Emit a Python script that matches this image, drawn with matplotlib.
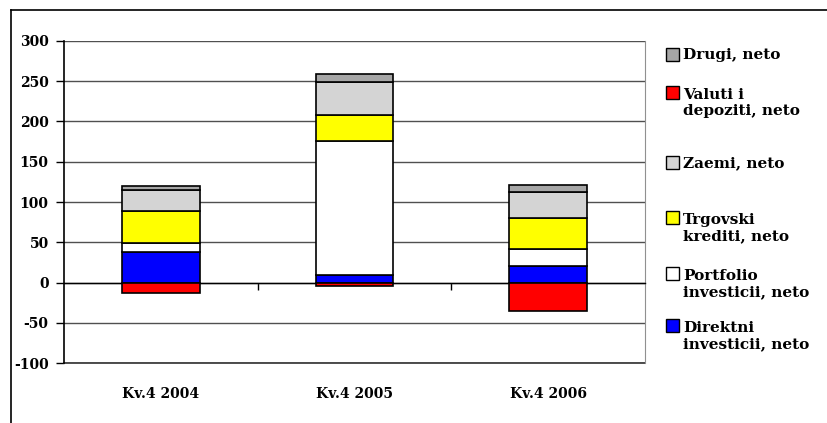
import matplotlib
matplotlib.use("Agg")
import matplotlib.pyplot as plt
import numpy as np
from matplotlib.lines import Line2D
from matplotlib.patches import Rectangle

categories = ["Kv.4 2004", "Kv.4 2005", "Kv.4 2006"]
direktni = [38.5, 9, 21]
portfolio = [10, 167, 21]
trgovski = [40, 32, 38.5]
zaemi = [26, 41, 31.5]
valuti = [-13.5, -4, -35.5]
drugi = [5.5, 10, 9.5]

series_names = ["Direktni\ninvesticii, neto", "Portfolio\ninvesticii, neto",
                "Trgovski\nkrediti, neto", "Zaemi, neto",
                "Valuti i\ndepoziti, neto", "Drugi, neto"]
series_vals = [direktni, portfolio, trgovski, zaemi, valuti, drugi]
colors = ["#0000ff", "#ffffff", "#ffff00", "#d4d4d4", "#ff0000", "#a6a6a6"]
yticks = [-100, -50, 0, 50, 100, 150, 200, 250, 300]

W, H = 828, 423
fig = plt.figure(figsize=(W / 100, H / 100), dpi=100)
ax = fig.add_axes([64 / W, 1 - 363 / H, (645 - 64) / W, (363 - 41) / H])

serif = ["DejaVu Serif"]
x = np.arange(len(categories))
pos_base = np.zeros(len(categories))
neg_base = np.zeros(len(categories))
for vals, c in zip(series_vals, colors):
    v = np.array(vals, dtype=float)
    bottoms = np.where(v >= 0, pos_base, neg_base)
    ax.bar(x, v, width=0.40, bottom=bottoms, color=c, edgecolor="black",
           linewidth=1.2, zorder=3)
    pos_base = pos_base + np.where(v >= 0, v, 0)
    neg_base = neg_base + np.where(v < 0, v, 0)

ax.set_xlim(-0.5, len(categories) - 0.5)
ax.set_ylim(-100, 300)
ax.set_yticks(yticks)
ax.set_yticklabels([str(t) for t in yticks], fontfamily=serif,
                   fontweight="bold", fontsize=10)
ax.yaxis.grid(True, color="#505050", linewidth=1)
ax.axhline(-100, color="#303030", linewidth=1.2, clip_on=False, zorder=1)
ax.set_axisbelow(True)
ax.tick_params(axis="y", direction="out", length=6, width=1, pad=5)

# x axis at zero with tick marks at category boundaries
ax.spines["bottom"].set_position(("data", 0))
ax.spines["bottom"].set_linewidth(1)
ax.set_xticks([0.5, 1.5])
ax.set_xticklabels([])
ax.tick_params(axis="x", direction="out", length=5, width=1)
for i, cat in enumerate(categories):
    ax.text(i, -0.095, cat, transform=ax.get_xaxis_transform(),
            ha="center", va="center", fontfamily=serif,
            fontweight="bold", fontsize=10)

ax.spines["top"].set_visible(False)
ax.spines["right"].set_color("#909090")
ax.spines["left"].set_linewidth(1.2)

# outer chart frame
fig.add_artist(Line2D([11 / W, 11 / W], [0, 1 - 10 / H], color="black",
                      linewidth=1.2, transform=fig.transFigure))
fig.add_artist(Line2D([11 / W, 1], [1 - 10 / H, 1 - 10 / H], color="black",
                      linewidth=1.2, transform=fig.transFigure))

# legend (manual, in Excel order)
legend_order = [5, 4, 3, 2, 1, 0]
legend_y = [55, 103, 163, 228, 284, 336]
for idx, yc in zip(legend_order, legend_y):
    name = series_names[idx]
    nlines = name.count("\n") + 1
    first_y = yc - (nlines - 1) * 10
    fig.add_artist(Rectangle((666 / W, 1 - (first_y + 6) / H), 13 / W, 13 / H,
                             facecolor=colors[idx], edgecolor="black",
                             linewidth=1, transform=fig.transFigure))
    fig.text(683 / W, 1 - yc / H, name, ha="left", va="center",
             fontfamily=serif, fontweight="bold", fontsize=11,
             linespacing=1.2)

fig.savefig("out.png", dpi=100)
